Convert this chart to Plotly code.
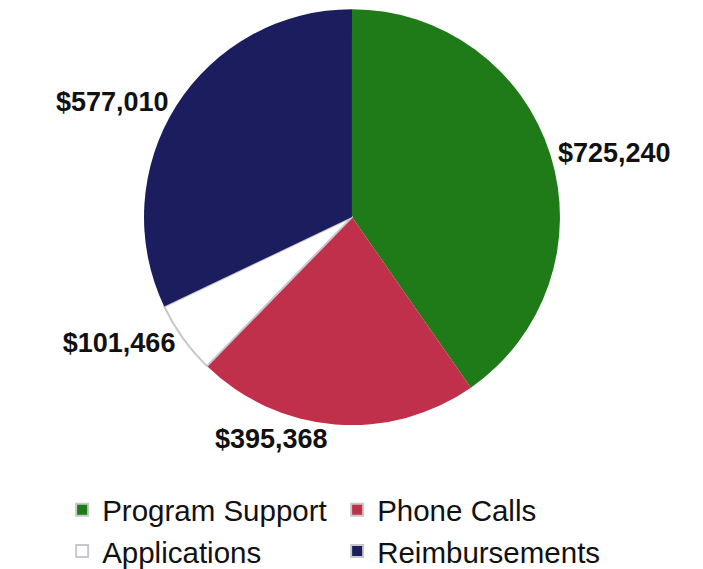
import plotly.graph_objects as go

categories = ["Program Support", "Phone Calls", "Applications", "Reimbursements"]
values = [725240, 395368, 101466, 577010]
colors = ["#1f7a18", "#c1304a", "#ffffff", "#1b1d5e"]

fig = go.Figure(go.Pie(
    labels=categories,
    values=values,
    sort=False,
    direction="clockwise",
    rotation=0,
    marker=dict(colors=colors, line=dict(color="#c8c8cc", width=[0, 0, 2, 0])),
    textposition="outside",
    texttemplate="<b>$%{value:,}</b>",
    textfont=dict(family="Liberation Sans, Arial", size=27, color="#111111"),
    domain=dict(x=[0.1934, 0.7852], y=[0.267, 0.998]),
    hoverinfo="label+value",
    automargin=False,
))

fig.update_layout(
    width=703, height=569,
    margin=dict(l=0, r=0, t=0, b=0, autoexpand=False),
    paper_bgcolor="white",
    plot_bgcolor="white",
    font=dict(family="Liberation Sans, Arial", color="#111111"),
    legend=dict(
        orientation="h",
        x=0.077, y=0.0, xanchor="left", yanchor="bottom",
        entrywidth=230, entrywidthmode="pixels",
        font=dict(size=29.5, family="Liberation Sans, Arial", color="#111111"),
        itemsizing="constant",
        bgcolor="rgba(0,0,0,0)",
        tracegroupgap=0,
    ),
    showlegend=True,
)

fig.write_html("out.html")
